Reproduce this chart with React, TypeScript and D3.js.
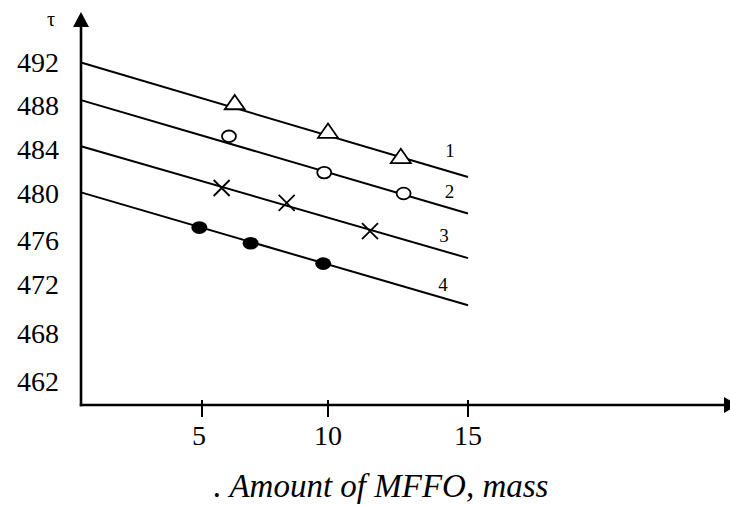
import React from "react";
import * as d3 from "d3";

const yTicks = [462, 468, 472, 476, 480, 484, 488, 492];
const xTicks = [5, 10, 15];

// Straight lines: value at x=0 and at x=15
const lineIds = ["1", "2", "3", "4"];
const lineStart = [492, 488.5, 484.3, 480.1];
const lineEnd = [481.5, 478.3, 474.4, 470.3];
const lineX = [0, 15];

// Markers
const triX = [6.3, 10.0, 12.6];
const triY = [488.1, 485.5, 483.2];
const circX = [6.07, 9.85, 12.7];
const circY = [485.2, 481.9, 480.0];
const crossX = [5.78, 8.36, 11.5];
const crossY = [480.5, 479.2, 476.8];
const dotX = [4.89, 6.93, 9.81];
const dotY = [477.1, 475.75, 473.9];

const FONT = "Liberation Serif";

export default function App() {
  const W = 730;
  const H = 506;
  const x0 = 81;
  const yAxis = 405;

  const x = d3.scaleLinear().domain([0, 5, 10, 15]).range([x0, 202, 328, 468]);
  const y = d3
    .scaleLinear()
    .domain(yTicks)
    .range([381.5, 333.5, 284.5, 240.5, 193.5, 149.5, 105.5, 62.5]);

  const line = d3
    .line<[number, number]>()
    .x((d) => x(d[0]))
    .y((d) => y(d[1]));

  const labelPos = [
    { x: 450, y: 157 },
    { x: 449.5, y: 198 },
    { x: 444, y: 242 },
    { x: 443, y: 291 },
  ];

  const triPath = (cx: number, cy: number) => {
    const w = 10, top = 9.5, bot = 4.8;
    return `M${cx},${cy - top}L${cx + w},${cy + bot}L${cx - w},${cy + bot}Z`;
  };

  return (
    <svg
      width={W}
      height={H}
      style={{ position: "absolute", left: 0, top: 0, background: "#fff" }}
    >
      <rect x={0} y={0} width={W} height={H} fill="#fff" />
      {/* axes */}
      <line x1={x0} y1={yAxis + 1.2} x2={x0} y2={26} stroke="#000" strokeWidth={2.6} />
      <polygon points={`${x0},12 ${x0 - 8},27 ${x0 + 8},27`} fill="#000" />
      <line x1={x0 - 1.2} y1={yAxis} x2={724} y2={yAxis} stroke="#000" strokeWidth={2.6} />
      <polygon points={`738,${yAxis} 724,${yAxis - 8} 724,${yAxis + 8}`} fill="#000" />

      {xTicks.map((t) => (
        <g key={t}>
          <line x1={x(t)} x2={x(t)} y1={yAxis - 5} y2={yAxis + 12} stroke="#000" strokeWidth={2} />
          <text
            x={x(t) - (t === 5 ? 3 : 0)}
            y={445}
            textAnchor="middle"
            fontFamily={FONT}
            fontSize={28}
          >
            {t}
          </text>
        </g>
      ))}

      {yTicks.map((t) => (
        <text
          key={t}
          x={59}
          y={y(t) + 9.5}
          textAnchor="end"
          fontFamily={FONT}
          fontSize={28}
        >
          {t}
        </text>
      ))}

      <text x={51} y={26} textAnchor="middle" fontFamily={FONT} fontSize={20}>
        τ
      </text>

      {/* lines */}
      {lineIds.map((id, i) => (
        <g key={id}>
          <path
            d={line([
              [lineX[0], lineStart[i]],
              [lineX[1], lineEnd[i]],
            ]) as string}
            fill="none"
            stroke="#000"
            strokeWidth={2}
          />
          <text
            x={labelPos[i].x}
            y={labelPos[i].y}
            textAnchor="middle"
            fontFamily={FONT}
            fontSize={19}
          >
            {id}
          </text>
        </g>
      ))}

      {/* markers */}
      {triX.map((v, i) => (
        <path key={"t" + i} d={triPath(x(v), y(triY[i]))} fill="#fff" stroke="#000" strokeWidth={1.8} />
      ))}
      {circX.map((v, i) => (
        <ellipse key={"c" + i} cx={x(v)} cy={y(circY[i])} rx={7} ry={5.8} fill="#fff" stroke="#000" strokeWidth={1.8} />
      ))}
      {crossX.map((v, i) => {
        const cx = x(v), cy = y(crossY[i]), s = 8;
        return (
          <path
            key={"x" + i}
            d={`M${cx - s},${cy - s}L${cx + s},${cy + s}M${cx - s},${cy + s}L${cx + s},${cy - s}`}
            stroke="#000"
            strokeWidth={1.8}
          />
        );
      })}
      {dotX.map((v, i) => (
        <ellipse key={"d" + i} cx={x(v)} cy={y(dotY[i])} rx={8} ry={6.3} fill="#000" />
      ))}

      <text
        x={381}
        y={497}
        textAnchor="middle"
        fontFamily={FONT}
        fontStyle="italic"
        fontSize={33}
      >
        . Amount of MFFO, mass
      </text>
    </svg>
  );
}
